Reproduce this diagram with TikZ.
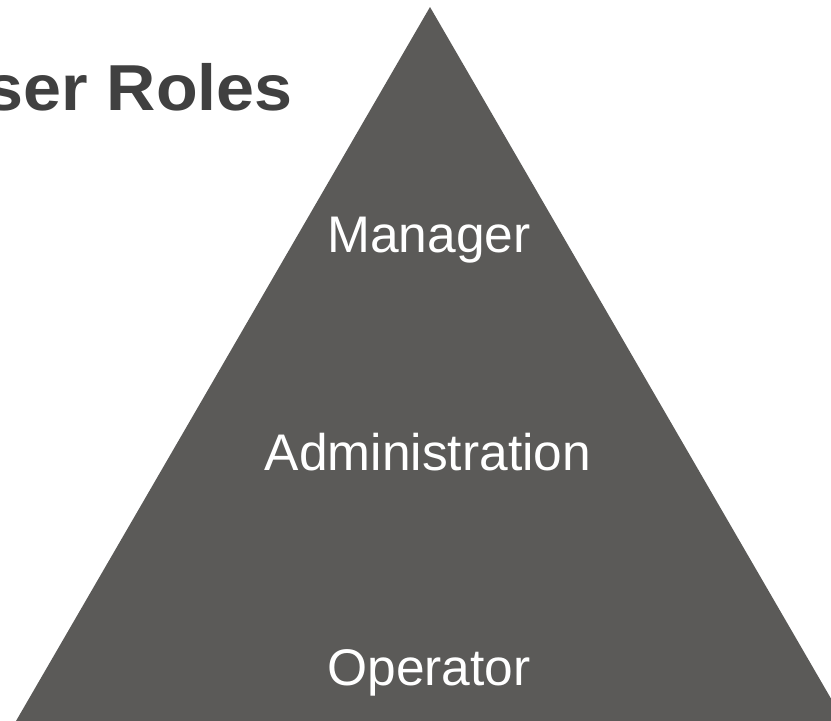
\documentclass[tikz,border=0pt]{standalone}
\usepackage{fontspec}
\setmainfont{Liberation Sans}
\definecolor{pyr}{HTML}{5B5A58}
\definecolor{ttl}{HTML}{404040}
\tikzset{
  lvl/.style={anchor=base, text=white, inner sep=0pt, font=\fontsize{51.5}{60}\selectfont},
  ttlstyle/.style={anchor=base east, text=ttl, inner sep=0pt, xscale=1.05, font=\fontsize{65}{72}\selectfont\bfseries}
}
\begin{document}
\begin{tikzpicture}[x=1pt,y=-1pt]
\useasboundingbox (0,0) rectangle (831,721);
\begin{scope}
\clip (0,0) rectangle (831,721);
\fill[pyr] (430,7) -- (844,721) -- (16,721) -- cycle;
\end{scope}
\node[ttlstyle] (title) at (293,110) {User Roles};
\node[lvl] (manager) at (429,252) {Manager};
\node[lvl] (admin) at (428,470) {Administration};
\node[lvl] (operator) at (429,685) {Operator};
\end{tikzpicture}
\end{document}
